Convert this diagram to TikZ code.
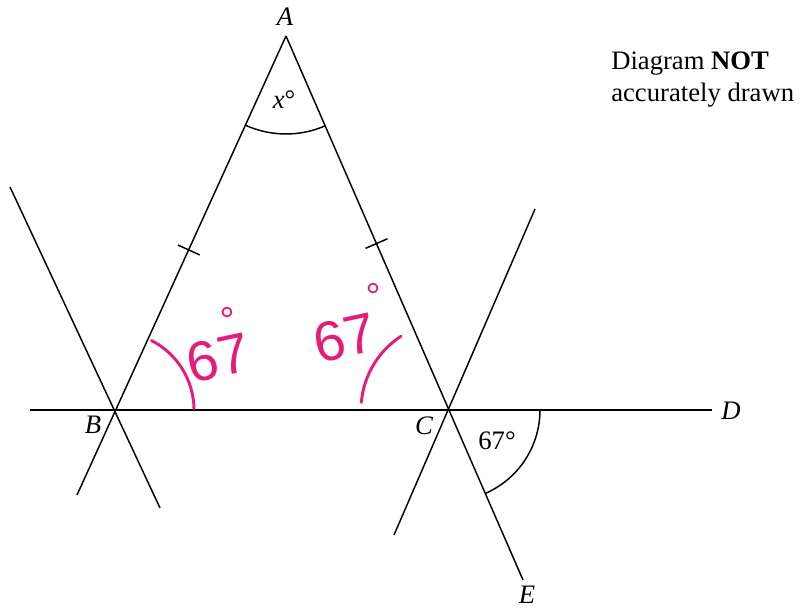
\documentclass[tikz,border=0pt]{standalone}
\usepackage{fontspec}
\setmainfont{Liberation Serif}
\newfontfamily\handfont{Liberation Sans}
\usetikzlibrary{calc,angles}
\definecolor{pinkink}{RGB}{228,30,120}
\newcommand{\hdeg}[1]{\hspace{#1}\raisebox{0.72em}{\fontsize{28}{28}\selectfont\textdegree}}
\begin{document}
\begin{tikzpicture}[x=0.75pt,y=-0.75pt,
  geoline/.style={line width=1.1pt, black},
  pinkline/.style={line width=2.2pt, pinkink, line cap=round},
  lbl/.style={font=\fontsize{20}{24}\selectfont\itshape, inner sep=0pt},
  anglbl/.style={font=\fontsize{20}{24}\selectfont, inner sep=0pt},
  handtxt/.style={font=\handfont\fontsize{42}{42}\selectfont, text=pinkink, inner sep=0pt, rotate=12}]
\useasboundingbox (0,0) rectangle (807,609);
% points
\coordinate (A) at (286,36);
\coordinate (B) at (116,410);
\coordinate (C) at (449,410);
\coordinate (L) at (30,410);
\coordinate (D) at (712,410);
\coordinate (Bx) at (77,495);
\coordinate (E) at (523,580);
\coordinate (P1) at (10,187);
\coordinate (P2) at (160,508);
\coordinate (Q1) at (535,209);
\coordinate (Q2) at (394,535);
% lines
\draw[geoline] (A) -- (Bx);
\draw[geoline] (A) -- (E);
\draw[geoline] (L) -- (D);
\draw[geoline] (P1) -- (P2);
\draw[geoline] (Q1) -- (Q2);
% ticks
\path (A) -- (B) coordinate[pos=0.572] (t1);
\path (A) -- (C) coordinate[pos=0.555] (t2);
\draw[geoline] ($(t1)!9pt!90:(A)$) -- ($(t1)!9pt!-90:(A)$);
\draw[geoline] ($(t2)!9pt!90:(A)$) -- ($(t2)!9pt!-90:(A)$);
% angle arcs
\pic[draw, line width=1.1pt, angle radius=73.5pt] {angle=B--A--C};
\pic[draw, line width=1.1pt, angle radius=68.25pt] {angle=E--C--D};
% labels
\node[lbl] (lA) at (285,17) {A};
\node[lbl] (lB) at (93,425) {B};
\node[lbl] (lC) at (424,426) {C};
\node[lbl] (lD) at (731,411) {D};
\node[lbl] (lE) at (527,595) {E};
\node[anglbl] (lx) at (284,100) {\textit{x}\textdegree};
\node[anglbl] (l67) at (497,441) {67\textdegree};
\node[anglbl, anchor=north west, align=left, font=\fontsize{20}{24}\selectfont] (note) at (611,52) {Diagram \textbf{NOT}\\accurately drawn};
% pink annotations
\draw[pinkline] ([shift={(1:58.5pt)}]B) arc[start angle=1, end angle=63, radius=58.5pt];
\draw[pinkline] ([shift={(123:66pt)}]C) arc[start angle=123, end angle=175, radius=66pt];
\node[handtxt] (h1) at (213,345) {67\hdeg{-0.36em}};
\node[handtxt] (h2) at (349,323) {67\hdeg{0em}};
\end{tikzpicture}
\end{document}
